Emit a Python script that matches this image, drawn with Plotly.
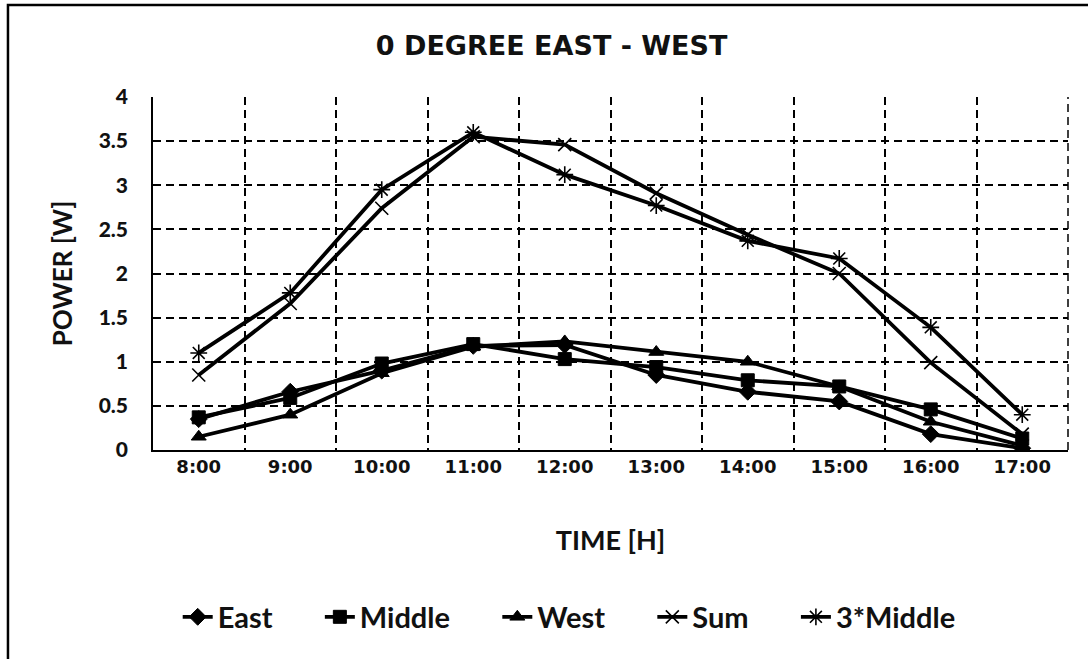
import plotly.graph_objects as go

# Hourly readings
hours = ["8:00", "9:00", "10:00", "11:00", "12:00", "13:00", "14:00", "15:00", "16:00", "17:00"]
east = [0.35, 0.66, 0.90, 1.18, 1.19, 0.85, 0.66, 0.55, 0.18, 0.02]
middle = [0.37, 0.59, 0.98, 1.20, 1.03, 0.94, 0.79, 0.72, 0.46, 0.13]
west = [0.15, 0.40, 0.87, 1.17, 1.23, 1.11, 1.00, 0.72, 0.32, 0.05]
total = [0.85, 1.66, 2.74, 3.55, 3.46, 2.91, 2.44, 2.00, 0.99, 0.18]
triple_middle = [1.10, 1.78, 2.95, 3.60, 3.12, 2.77, 2.37, 2.17, 1.39, 0.40]

series = [
    ("East", east, "diamond", 13, 1),
    ("Middle", middle, "square", 13, 1),
    ("West", west, "triangle-up", 13, 1),
    ("Sum", total, "x-thin-open", 13, 1.6),
    ("3*Middle", triple_middle, "asterisk-open", 14, 1.6),
]

PAD = "\u00a0" * 6  # spacing between legend entries

fig = go.Figure()
for i, (name, vals, sym, size, mlw) in enumerate(series):
    label = name if i == len(series) - 1 else name + PAD
    fig.add_trace(go.Scatter(
        x=hours, y=vals, name=label, mode="lines+markers",
        line=dict(color="black", width=3.8),
        marker=dict(symbol=sym, size=size, color="black",
                    line=dict(color="black", width=mlw)),
    ))

body_font = "Lato"
grid_dash = "8px,5px"
fig.update_layout(
    width=1088, height=659,
    margin=dict(l=153, r=20, t=97, b=209),
    paper_bgcolor="white", plot_bgcolor="white",
    title=dict(text="<b>0 DEGREE EAST - WEST</b>", x=0.507, xanchor="center",
               y=0.931, yanchor="middle",
               font=dict(family="DejaVu Sans", size=27, color="#111")),
    xaxis=dict(
        type="category", tickson="boundaries", range=[-0.5, 9.5],
        showgrid=True, gridcolor="black", griddash=grid_dash, gridwidth=1.5,
        showline=True, linecolor="black", linewidth=1.5,
        ticks="", tickfont=dict(family="DejaVu Sans", size=18, color="#111", weight="bold"),
        title=dict(text="<b>TIME [H]</b>", font=dict(family=body_font, size=27, color="#111"),
                   standoff=55),
    ),
    yaxis=dict(
        range=[0, 4], dtick=0.5,
        showgrid=True, gridcolor="black", griddash=grid_dash, gridwidth=1.5,
        showline=True, linecolor="black", linewidth=1.5, zeroline=False,
        ticks="", ticklabelstandoff=19,
        tickfont=dict(family=body_font, size=21, color="#111", weight=900),
        title=dict(text="<b>POWER [W]</b>", font=dict(family=body_font, size=26, color="#111"),
                   standoff=19),
    ),
    legend=dict(orientation="h", x=0.027, xanchor="left", y=-0.473, yanchor="middle",
                font=dict(family=body_font, size=29, color="#111", weight="bold"),
                tracegroupgap=0),
    showlegend=True,
)

# Dashed border on the right edge of the plotting area
fig.add_shape(type="line", xref="paper", yref="paper", x0=1, x1=1, y0=0, y1=1,
              line=dict(color="black", width=1.5, dash=grid_dash))

# Outer chart frame
fig.add_shape(type="rect", xref="paper", yref="paper",
              x0=-0.1585, x1=1.1, y0=-0.8, y1=1.2606,
              line=dict(color="black", width=2.5), layer="below")

fig.write_html("out.html")
